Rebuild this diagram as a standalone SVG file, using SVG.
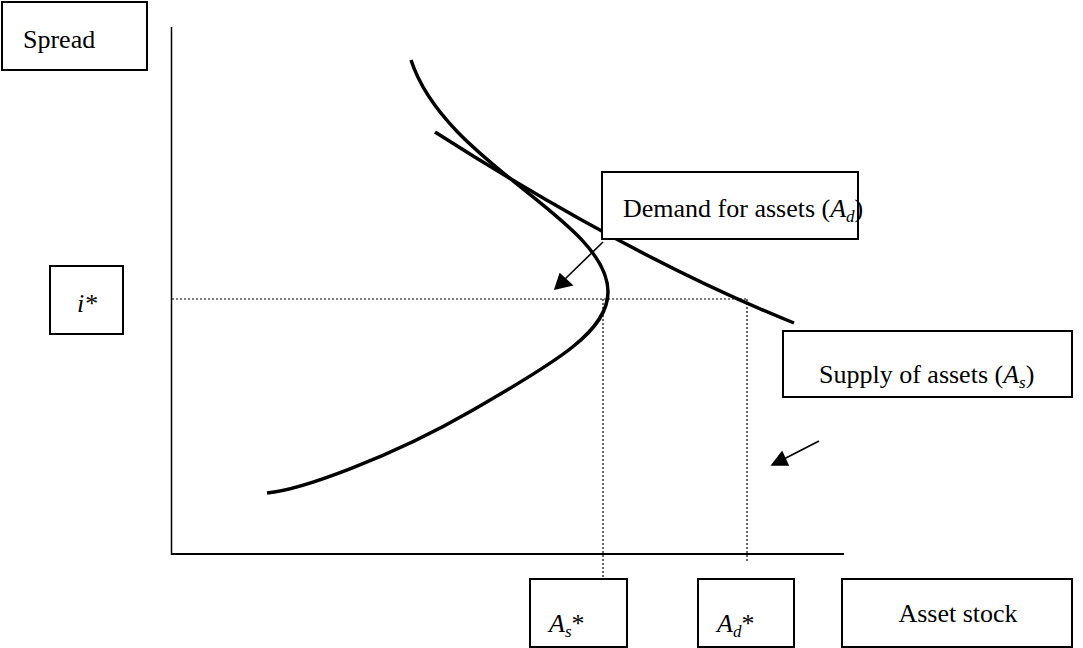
<svg xmlns="http://www.w3.org/2000/svg" width="1083" height="648" viewBox="0 0 1083 648">
<style>
.box{fill:#fff;stroke:#000;stroke-width:2}
text{font-family:'Liberation Serif','Times New Roman','DejaVu Serif',serif;font-size:26px;fill:#000}
.it{font-style:italic}
.axis{stroke:#000;fill:none}
.curve{stroke:#000;stroke-width:3.5;fill:none;stroke-linecap:butt}
.dot{stroke:#000;stroke-width:1.2;stroke-dasharray:2 2;fill:none}
.arr{stroke:#000;stroke-width:1.6;fill:none}
</style>
<rect width="1083" height="648" fill="#fff"/>
<g id="connectors">
<line class="axis" x1="171.5" y1="27" x2="171.5" y2="555" stroke-width="1.5"/>
<line class="axis" x1="171" y1="554" x2="844" y2="554" stroke-width="2"/>
<line class="dot" x1="172" y1="299" x2="747" y2="299"/>
<line class="dot" x1="603" y1="299" x2="603" y2="578"/>
<line class="dot" x1="747" y1="299" x2="747" y2="561"/>
<path class="curve" d="M411,60 C445,165 608,220 608,292 C608,330 560,360 473,410 C390,458 300,490 267,493"/>
<path class="curve" d="M435,132 Q632,258 794,323"/>
<path d="M603,242 L564,280" class="arr"/>
<path d="M560,274 L555,289 L572,285 Z" fill="#000" stroke="#000" stroke-width="1.5" stroke-linejoin="miter"/>
<path d="M819,441 L782,460" class="arr"/>
<path d="M782,452 L772,465 L788,465 Z" fill="#000" stroke="#000" stroke-width="1.5"/>
</g>
<g id="spread">
<rect class="box" x="2" y="2" width="145" height="68"/>
<text x="23" y="48" font-family="Liberation Serif, serif">Spread</text>
</g>
<g id="istar">
<rect class="box" x="50" y="266" width="73" height="68"/>
<text class="it" x="87" y="312" text-anchor="middle" font-size="30" font-family="Liberation Serif, serif">i*</text>
</g>
<g id="demand">
<rect class="box" x="602" y="172" width="256" height="67"/>
<text x="623" y="217" font-family="Liberation Serif, serif">Demand for assets (<tspan class="it">A</tspan><tspan class="it" font-size="17" dy="5">d</tspan><tspan dy="-5">)</tspan></text>
</g>
<g id="supply">
<rect class="box" x="783" y="331" width="289" height="66"/>
<text x="819" y="383" font-family="Liberation Serif, serif">Supply of assets (<tspan class="it">A</tspan><tspan class="it" font-size="17" dy="5">s</tspan><tspan dy="-5">)</tspan></text>
</g>
<g id="as-star">
<rect class="box" x="530" y="579" width="97" height="68"/>
<text x="549" y="632" font-family="Liberation Serif, serif"><tspan class="it">A</tspan><tspan class="it" font-size="17" dy="5">s</tspan><tspan dy="-5">*</tspan></text>
</g>
<g id="ad-star">
<rect class="box" x="698" y="579" width="96" height="68"/>
<text x="717" y="632" font-family="Liberation Serif, serif"><tspan class="it">A</tspan><tspan class="it" font-size="17" dy="5">d</tspan><tspan dy="-5">*</tspan></text>
</g>
<g id="asset-stock">
<rect class="box" x="842" y="579" width="230" height="68"/>
<text x="958" y="622" text-anchor="middle" font-family="Liberation Serif, serif">Asset stock</text>
</g>
</svg>
